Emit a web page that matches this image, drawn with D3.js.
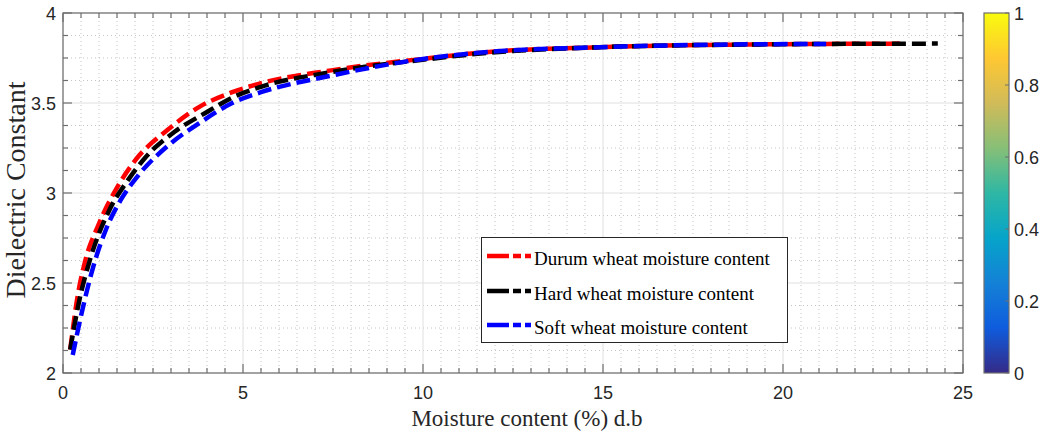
<!DOCTYPE html>
<html><head><meta charset="utf-8">
<script src="https://cdn.jsdelivr.net/npm/d3@7"></script>
<style>body{margin:0;background:#fff}svg{display:block}</style>
</head><body>
<svg id="c" width="1041" height="434"></svg>
<script>
// ---- data ----
const durumX = [0.2, 0.4, 0.6, 1.0, 1.5, 2.0, 2.9, 3.8, 4.7, 5.5, 7.4, 10.2, 11.6, 14.9, 19.1, 23.4];
const durumY = [2.13, 2.42, 2.61, 2.83, 3.03, 3.18, 3.35, 3.48, 3.56, 3.61, 3.68, 3.75, 3.78, 3.81, 3.825, 3.83];
const hardX  = [0.2, 0.45, 0.75, 1.3, 1.8, 2.3, 3.1, 4.0, 4.7, 5.5, 7.4, 10.2, 11.6, 14.9, 19.1, 24.3];
const hardY  = [2.13, 2.40, 2.63, 2.91, 3.07, 3.20, 3.34, 3.45, 3.53, 3.59, 3.67, 3.745, 3.775, 3.81, 3.825, 3.83];
const softX  = [0.27, 0.47, 0.84, 1.2, 1.6, 2.1, 2.9, 3.8, 4.7, 5.5, 7.4, 10.2, 11.6, 14.9, 19.1, 21.2];
const softY  = [2.10, 2.29, 2.59, 2.80, 2.96, 3.10, 3.26, 3.39, 3.50, 3.56, 3.65, 3.75, 3.78, 3.81, 3.826, 3.828];
const seriesNames = ["Durum wheat moisture content", "Hard wheat moisture content", "Soft wheat moisture content"];
const seriesColors = ["#ff0000", "#000000", "#0000ff"];
const xTicks = [0, 5, 10, 15, 20, 25];
const yTicks = [2, 2.5, 3, 3.5, 4];
const cbTicks = [0, 0.2, 0.4, 0.6, 0.8, 1];
const parula = ["#352a87","#0f5cdd","#1481d6","#06a4ca","#2eb7a4","#87bf77","#d1bb59","#fec832","#f9fb0e"];
const xLabel = "Moisture content (%) d.b";
const yLabel = "Dielectric Constant";

const svg = d3.select("#c");
const L = 63, R = 963, T = 13, B = 373;
const x = d3.scaleLinear().domain([0, 25]).range([L, R]);
const y = d3.scaleLinear().domain([2, 4]).range([B, T]);

const xMinor = d3.range(0, 25.001, 0.5);
const yMinor = d3.range(2, 4.001, 0.125);

// minor grid (dotted)
const g = svg.append("g");
g.selectAll(".mgx").data(xMinor.filter(v => v % 5 !== 0)).join("line")
  .attr("x1", d => x(d)).attr("x2", d => x(d)).attr("y1", T).attr("y2", B)
  .attr("stroke", "#c4c4c4").attr("stroke-width", 1).attr("stroke-dasharray", "1,3");
g.selectAll(".mgy").data(yMinor.filter(v => Math.abs(v * 2 - Math.round(v * 2)) > 1e-9)).join("line")
  .attr("y1", d => y(d)).attr("y2", d => y(d)).attr("x1", L).attr("x2", R)
  .attr("stroke", "#c4c4c4").attr("stroke-width", 1).attr("stroke-dasharray", "1,3");
// major grid
g.selectAll(".Mgx").data(xTicks).join("line")
  .attr("x1", d => x(d)).attr("x2", d => x(d)).attr("y1", T).attr("y2", B)
  .attr("stroke", "#e0e0e0").attr("stroke-width", 1);
g.selectAll(".Mgy").data(yTicks).join("line")
  .attr("y1", d => y(d)).attr("y2", d => y(d)).attr("x1", L).attr("x2", R)
  .attr("stroke", "#e0e0e0").attr("stroke-width", 1);

// curves
const line = d3.line().x(d => x(d[0])).y(d => y(d[1])).curve(d3.curveMonotoneX);
const series = [
  d3.zip(durumX, durumY),
  d3.zip(hardX, hardY),
  d3.zip(softX, softY)
];
series.forEach((s, i) => {
  svg.append("path").datum(s).attr("d", line).attr("fill", "none")
    .attr("stroke", seriesColors[i]).attr("stroke-width", 4.5)
    .attr("stroke-dasharray", "14,6");
});

// axes (box with inward ticks)
const axCol = "#6e6e6e";
const ax = svg.append("g").attr("stroke", axCol).attr("stroke-width", 1.2).attr("fill", "none");
ax.append("rect").attr("x", L).attr("y", T).attr("width", R - L).attr("height", B - T);
xMinor.forEach(v => {
  const len = (v % 5 === 0) ? 9 : 5;
  ax.append("line").attr("x1", x(v)).attr("x2", x(v)).attr("y1", B).attr("y2", B - len);
  ax.append("line").attr("x1", x(v)).attr("x2", x(v)).attr("y1", T).attr("y2", T + len);
});
yMinor.forEach(v => {
  const major = Math.abs(v * 2 - Math.round(v * 2)) < 1e-9;
  const len = major ? 9 : 5;
  ax.append("line").attr("y1", y(v)).attr("y2", y(v)).attr("x1", L).attr("x2", L + len);
  ax.append("line").attr("y1", y(v)).attr("y2", y(v)).attr("x1", R).attr("x2", R - len);
});

// tick labels
const tickFont = "'Liberation Sans', Arial, sans-serif";
svg.append("g").selectAll("text").data(xTicks).join("text")
  .attr("x", d => x(d)).attr("y", 399).attr("text-anchor", "middle")
  .attr("font-family", tickFont).attr("font-size", 18).attr("fill", "#262626")
  .text(d => d);
svg.append("g").selectAll("text").data(yTicks).join("text")
  .attr("x", 56).attr("y", d => y(d) + 6.5).attr("text-anchor", "end")
  .attr("font-family", tickFont).attr("font-size", 18).attr("fill", "#262626")
  .text(d => d);

// axis titles
svg.append("text").attr("x", 527).attr("y", 426).attr("text-anchor", "middle")
  .attr("font-family", "'Liberation Serif', 'Times New Roman', serif").attr("font-size", 23)
  .attr("fill", "#262626").text(xLabel);
svg.append("text").attr("transform", "translate(25,190) rotate(-90)").attr("text-anchor", "middle")
  .attr("font-family", "'Liberation Serif', 'Times New Roman', serif").attr("font-size", 28)
  .attr("fill", "#262626").text(yLabel);

// legend
const lg = svg.append("g");
lg.append("rect").attr("x", 481.5).attr("y", 237.5).attr("width", 306).attr("height", 105)
  .attr("fill", "#fff").attr("stroke", "#262626").attr("stroke-width", 1);
const legY = [256, 291, 325];
seriesNames.forEach((nm, i) => {
  lg.append("line").attr("x1", 487).attr("x2", 532).attr("y1", legY[i]).attr("y2", legY[i])
    .attr("stroke", seriesColors[i]).attr("stroke-width", 4.5).attr("stroke-dasharray", "22,4,8,4,6");
  lg.append("text").attr("x", 534).attr("y", legY[i] + 9)
    .attr("font-family", "'Liberation Serif', 'Times New Roman', serif").attr("font-size", 19)
    .attr("fill", "#000").text(nm);
});

// colorbar
const cbL = 984, cbR = 1009;
const cy = d3.scaleLinear().domain([0, 1]).range([B, T]);
const defs = svg.append("defs");
const grad = defs.append("linearGradient").attr("id", "parula").attr("x1", 0).attr("y1", 1).attr("x2", 0).attr("y2", 0);
parula.forEach((c, i) => grad.append("stop").attr("offset", i / (parula.length - 1)).attr("stop-color", c));
svg.append("rect").attr("x", cbL).attr("y", T).attr("width", cbR - cbL).attr("height", B - T)
  .attr("fill", "url(#parula)").attr("stroke", axCol).attr("stroke-width", 1.2);
svg.append("g").selectAll("line").data(cbTicks).join("line")
  .attr("x1", cbR).attr("x2", cbR - 4).attr("y1", d => cy(d)).attr("y2", d => cy(d))
  .attr("stroke", axCol).attr("stroke-width", 1);
svg.append("g").selectAll("text").data(cbTicks).join("text")
  .attr("x", 1014).attr("y", d => cy(d) + 6.5)
  .attr("font-family", tickFont).attr("font-size", 18).attr("fill", "#262626")
  .text(d => d);
</script>
</body></html>
